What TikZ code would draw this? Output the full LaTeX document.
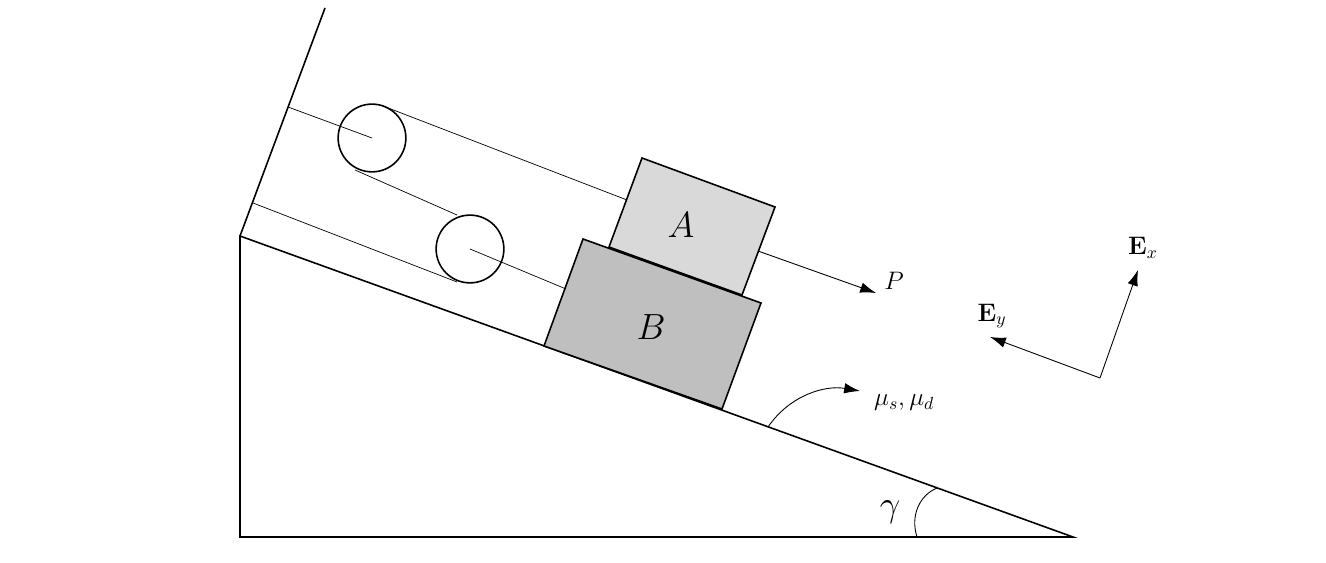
\documentclass[tikz,border=0pt]{standalone}
\usetikzlibrary{arrows.meta}
\begin{document}
\begin{tikzpicture}[x=0.02cm,y=-0.02cm,
  thick line/.style={line width=0.9pt},
  rope/.style={line width=0.4pt},
  arr/.style={line width=0.5pt,-{Latex[length=9pt,width=6pt]}},
  lbl/.style={font=\Large}]
\useasboundingbox (0,0) rectangle (1326,563);
\coordinate (T) at (240,236);
\coordinate (BL) at (240,537);
\coordinate (BR) at (1073,537);
\coordinate (W) at (325,8);
\draw[thick line] (W) -- (T);
\draw[thick line] (T) -- (BR) -- (BL) -- cycle;
\draw[thick line,fill=black!25] (544,346) -- (583,239) -- (761,303) -- (722,409) -- cycle;
\draw[thick line,fill=black!15] (609,247) -- (642,158) -- (775,207) -- (742,295) -- cycle;
\node[font=\huge] (A) at (681,225) {$A$};
\node[font=\huge] (B) at (651,327) {$B$};
\node[circle,draw,thick line,minimum size=68pt*0.02/0.0352778,inner sep=0] (p1) at (372,138) {};
\node[circle,draw,thick line,minimum size=68pt*0.02/0.0352778,inner sep=0] (p2) at (470,249) {};
\draw[rope] (288,107) -- (p1.center);
\draw[rope] (383,106) -- (627,200);
\draw[rope] (355,170) -- (457,215);
\draw[rope] (253,203) -- (457,282);
\draw[rope] (p2.center) -- (566,289);
\coordinate (P0) at (758,251);
\coordinate (P1) at (876,293);
\draw[arr] (P0) -- (P1);
\node[lbl] (P) at (894,281) {$P$};
\coordinate (m0) at (768,427);
\coordinate (m1) at (860,391);
\draw[arr] (m0) .. controls (790,395) and (825,385) .. (m1);
\node[lbl,anchor=west] (mu) at (868,403) {$\mu_s,\mu_d$};
\draw[line width=0.5pt] (917,537) .. controls (910,515) and (920,495) .. (937,488);
\node[font=\huge] (g) at (890,512) {$\gamma$};
\coordinate (O) at (1100,378);
\coordinate (ex) at (1138,270);
\coordinate (ey) at (990,337);
\draw[arr] (O) -- (ex);
\draw[arr] (O) -- (ey);
\node[lbl] (Ex) at (1143,248) {$\mathbf{E}_x$};
\node[lbl] (Ey) at (992,316) {$\mathbf{E}_y$};
\end{tikzpicture}
\end{document}
